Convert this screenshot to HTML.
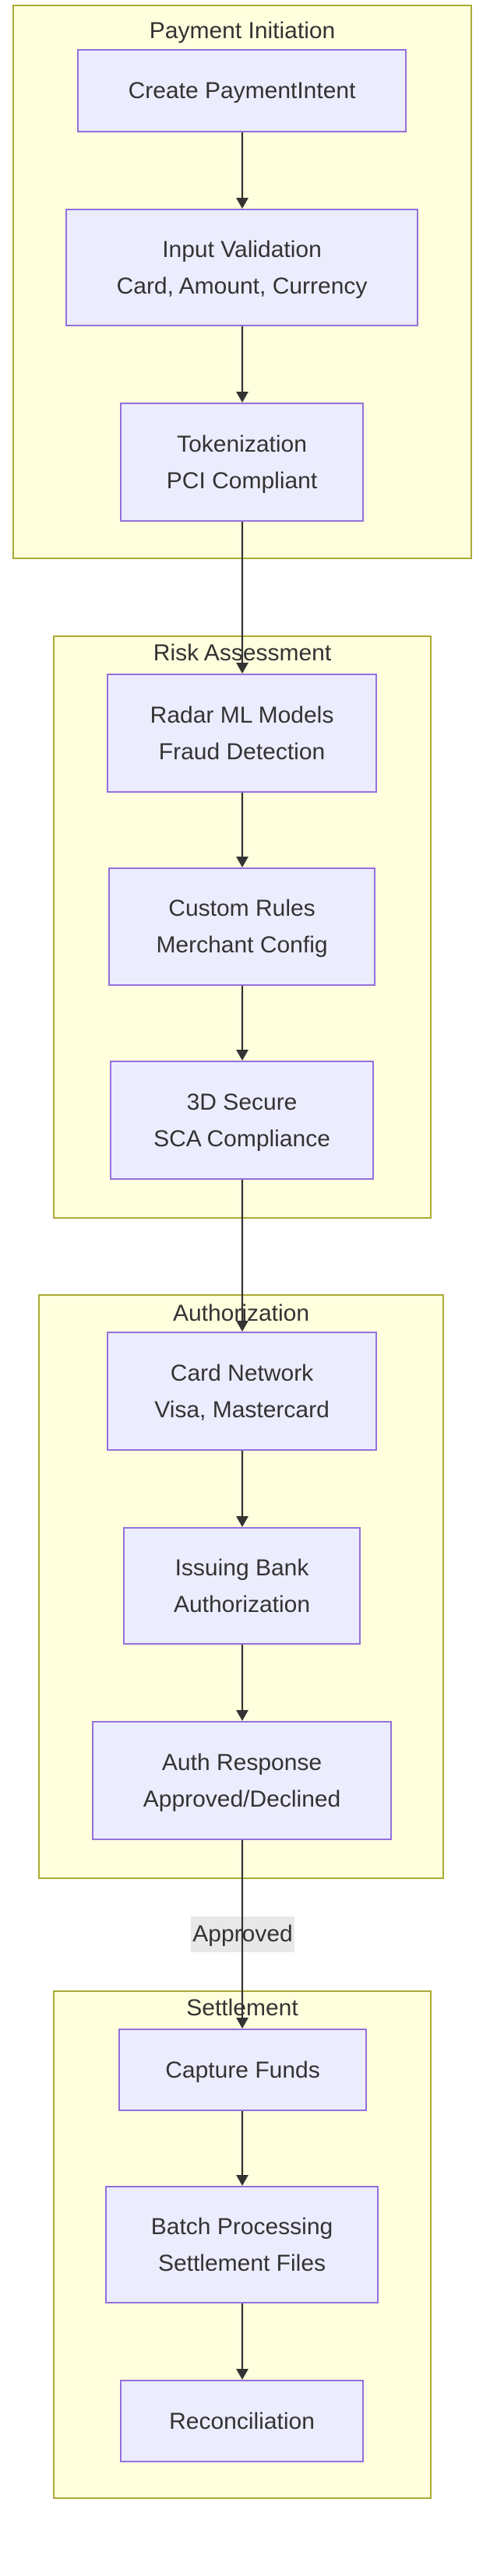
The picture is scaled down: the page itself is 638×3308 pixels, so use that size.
<!DOCTYPE html>
<html><head><meta charset="utf-8"><style>
html,body{margin:0;padding:0;background:#fff;}
body{width:638px;height:3308px;position:relative;overflow:hidden;font-family:"Liberation Sans","DejaVu Sans",sans-serif;color:#333;}
.c{position:absolute;background:#ffffde;border:2px solid #aaaa33;box-sizing:border-box;}
.t{position:absolute;left:0;right:0;text-align:center;font-size:30px;line-height:34px;}
.n{position:absolute;background:#ececff;border:2px solid #9370db;box-sizing:border-box;display:flex;align-items:center;justify-content:center;text-align:center;font-size:30px;line-height:47px;}
.lbl{position:absolute;background:#e8e8e8;font-size:30px;line-height:46px;text-align:center;}
svg{position:absolute;left:0;top:0;}
</style></head><body>
<div class="c" style="left:16px;top:6px;width:590px;height:712px"><div class="t" style="top:15px">Payment Initiation</div></div>
<div class="c" style="left:68px;top:816px;width:486px;height:749px"><div class="t" style="top:4px">Risk Assessment</div></div>
<div class="c" style="left:49px;top:1662px;width:521px;height:751px"><div class="t" style="top:6px">Authorization</div></div>
<div class="c" style="left:68px;top:2556px;width:486px;height:653px"><div class="t" style="top:4px">Settlement</div></div>

<div class="n" style="left:99px;top:63px;width:423px;height:107px">Create PaymentIntent</div>
<div class="n" style="left:84px;top:268px;width:453px;height:151px">Input Validation<br>Card, Amount, Currency</div>
<div class="n" style="left:154px;top:517px;width:313px;height:153px">Tokenization<br>PCI Compliant</div>
<div class="n" style="left:137px;top:865px;width:347px;height:153px">Radar ML Models<br>Fraud Detection</div>
<div class="n" style="left:139px;top:1114px;width:343px;height:152px">Custom Rules<br>Merchant Config</div>
<div class="n" style="left:141px;top:1362px;width:339px;height:153px">3D Secure<br>SCA Compliance</div>
<div class="n" style="left:137px;top:1710px;width:347px;height:153px">Card Network<br>Visa, Mastercard</div>
<div class="n" style="left:158px;top:1961px;width:305px;height:151px">Issuing Bank<br>Authorization</div>
<div class="n" style="left:118px;top:2210px;width:385px;height:153px">Auth Response<br>Approved/Declined</div>
<div class="n" style="left:152px;top:2605px;width:319px;height:106px">Capture Funds</div>
<div class="n" style="left:135px;top:2807px;width:351px;height:151px">Batch Processing<br>Settlement Files</div>
<div class="n" style="left:154px;top:3056px;width:313px;height:106px">Reconciliation</div>

<div class="lbl" style="left:245px;top:2461px;width:133px;height:46px">Approved</div>

<svg width="638" height="3308" viewBox="0 0 638 3308">
<g stroke="#333" stroke-width="2.2" fill="none">
<line x1="311" y1="170" x2="311" y2="256"/>
<line x1="311" y1="419" x2="311" y2="505"/>
<line x1="311" y1="670" x2="311" y2="853"/>
<line x1="311" y1="1018" x2="311" y2="1102"/>
<line x1="311" y1="1266" x2="311" y2="1350"/>
<line x1="311" y1="1515" x2="311" y2="1698"/>
<line x1="311" y1="1863" x2="311" y2="1949"/>
<line x1="311" y1="2112" x2="311" y2="2198"/>
<line x1="311" y1="2363" x2="311" y2="2593"/>
<line x1="311" y1="2711" x2="311" y2="2795"/>
<line x1="311" y1="2958" x2="311" y2="3044"/>
</g>
<g fill="#333">
<polygon points="303,254 319,254 311,268"/>
<polygon points="303,503 319,503 311,517"/>
<polygon points="303,851 319,851 311,865"/>
<polygon points="303,1100 319,1100 311,1114"/>
<polygon points="303,1348 319,1348 311,1362"/>
<polygon points="303,1696 319,1696 311,1710"/>
<polygon points="303,1947 319,1947 311,1961"/>
<polygon points="303,2196 319,2196 311,2210"/>
<polygon points="303,2591 319,2591 311,2605"/>
<polygon points="303,2793 319,2793 311,2807"/>
<polygon points="303,3042 319,3042 311,3056"/>
</g>
</svg>
</body></html>
